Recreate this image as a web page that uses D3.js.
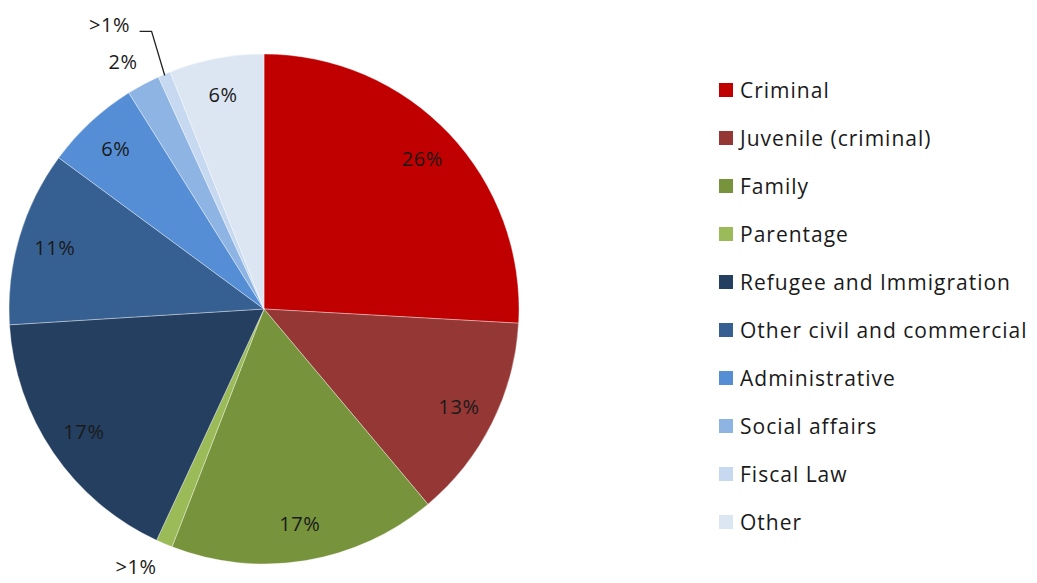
<!DOCTYPE html>
<html>
<head>
<meta charset="utf-8">
<script src="https://cdn.jsdelivr.net/npm/d3@7"></script>
<style>
body { margin: 0; background: #fff; }
text { font-family: "Open Sans", "Liberation Sans", sans-serif; }
</style>
</head>
<body>
<script>
var width = 1037;
var height = 583;

var categories = ["Criminal", "Juvenile (criminal)", "Family", "Parentage", "Refugee and Immigration",
                  "Other civil and commercial", "Administrative", "Social affairs", "Fiscal Law", "Other"];
var shares = [25.9, 13.0, 17.0, 1.05, 17.1, 11.1, 6.0, 2.1, 0.8, 6.0];
var labels = ["26%", "13%", "17%", ">1%", "17%", "11%", "6%", "2%", ">1%", "6%"];
var colors = ["#c00000", "#953735", "#77933c", "#9bbb59", "#243f60",
              "#376092", "#558ed5", "#8eb4e3", "#c6d9f1", "#dce6f2"];

var cx = 264, cy = 309, radius = 255;

var svg = d3.select("body")
            .append("svg")
            .attr("width", width)
            .attr("height", height);

var color = d3.scaleOrdinal().domain(categories).range(colors);

var pie = d3.pie().sort(null).value(function(d) { return d.value; });
var arc = d3.arc().innerRadius(0).outerRadius(radius);
var labelArc = d3.arc().innerRadius(radius * 0.855).outerRadius(radius * 0.855);

var data = categories.map(function(c, i) { return {name: c, value: shares[i], label: labels[i]}; });
var arcs = pie(data);

var g = svg.append("g").attr("transform", "translate(" + cx + "," + cy + ")");

g.selectAll(".slice")
    .data(arcs)
    .enter()
    .append("path")
    .attr("class", "slice")
    .attr("d", arc)
    .style("fill", function(d) { return color(d.data.name); })
    .style("stroke", "#fff")
    .style("stroke-width", 0.6)
    .style("stroke-opacity", 0.6);

// labels of thin slices sit outside the pie (angle from slice edge, radius factor)
function outside(d) {
    if (d.data.name == "Parentage") return [d.endAngle + 0.025, 1.13];
    if (d.data.name == "Social affairs") return [d.startAngle + 0.04, 1.115];
    if (d.data.name == "Fiscal Law") return [d.startAngle - 0.07, 1.27];
    return null;
}
function polar(a, r) { return [Math.sin(a) * r, -Math.cos(a) * r]; }

g.selectAll(".lbl")
    .data(arcs)
    .enter()
    .append("text")
    .attr("class", "lbl")
    .attr("transform", function(d) {
        var o = outside(d);
        var p = o ? polar(o[0], radius * o[1]) : labelArc.centroid(d);
        return "translate(" + p + ")";
    })
    .attr("text-anchor", "middle")
    .attr("dy", "0.36em")
    .style("font-size", "20px")
    .style("letter-spacing", "0.6px")
    .style("fill", "#1a1a1a")
    .text(function(d) { return d.data.label; });

// leader line for the fiscal law label
var fiscal = arcs[8];
var fo = outside(fiscal);
var lp = polar(fo[0], radius * fo[1]);
var edge = polar((fiscal.startAngle + fiscal.endAngle) / 2, radius * 0.995);
g.append("polyline")
    .attr("points", [[lp[0] + 30, lp[1] + 7], [lp[0] + 42, lp[1] + 7], edge].join(" "))
    .style("fill", "none")
    .style("stroke", "#222")
    .style("stroke-width", 1.3);

var legendStep = 48;
var legendSquare = 14;
var legend = svg.selectAll("g.legend")
                .data(categories)
                .enter()
                .append("g")
                .attr("class", "legend")
                .attr("transform", function(d, i) { return "translate(719," + (91 + i * legendStep) + ")"; });
legend.append("rect")
    .attr("x", 0)
    .attr("y", -legendSquare / 2 - 1)
    .attr("width", legendSquare)
    .attr("height", legendSquare)
    .style("fill", function(d) { return color(d); });
legend.append("text")
    .attr("x", 21)
    .attr("dy", "0.35em")
    .style("font-size", "21px")
    .style("letter-spacing", "1px")
    .style("fill", "#1a1a1a")
    .text(function(d) { return d; });
</script>
</body>
</html>
